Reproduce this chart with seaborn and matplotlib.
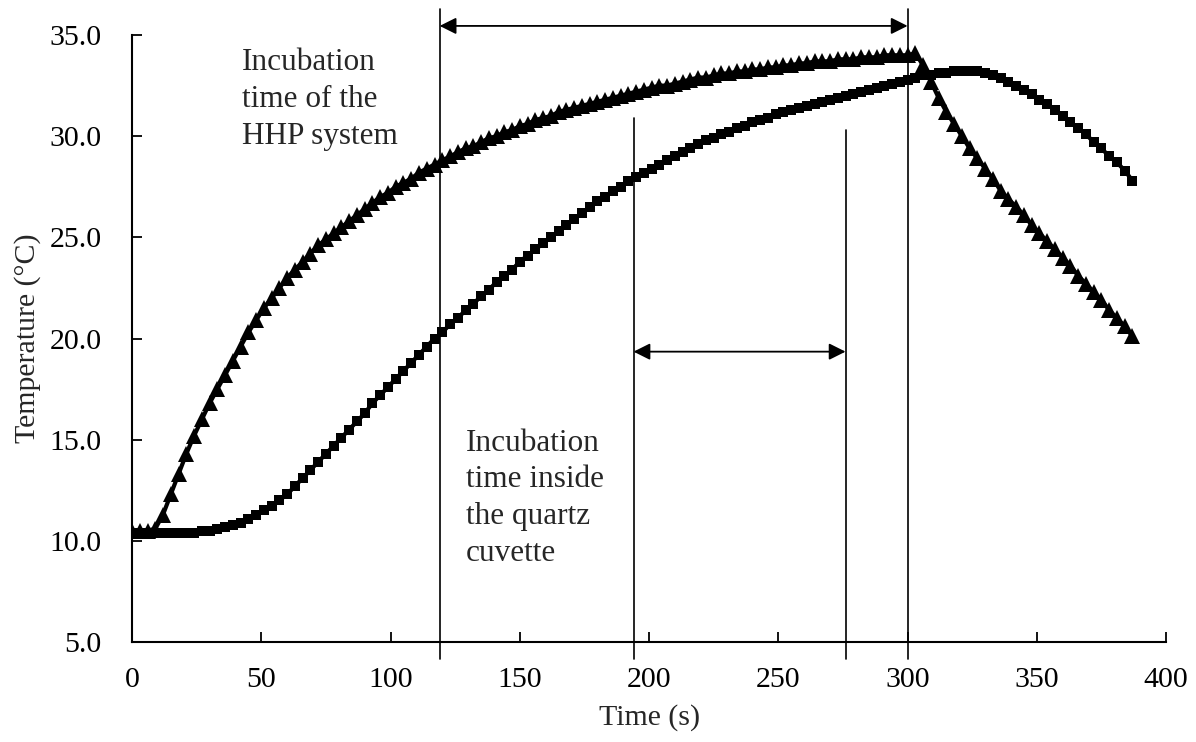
import numpy as np
import pandas as pd
import matplotlib
matplotlib.use("Agg")
import matplotlib.pyplot as plt
import seaborn as sns

# ---------------- data ----------------
time_s = list(range(0, 390, 3))

hhp_system = [
    10.5, 10.5, 10.5, 10.6, 11.3, 12.3, 13.3, 14.3, 15.2, 16.0,
    16.8, 17.5, 18.2, 18.9, 19.6, 20.3, 20.9, 21.5, 22.0, 22.5,
    23.0, 23.4, 23.8, 24.2, 24.6, 24.9, 25.2, 25.5, 25.8, 26.1,
    26.4, 26.7, 27.0, 27.2, 27.5, 27.7, 27.9, 28.2, 28.4, 28.6,
    28.8, 29.0, 29.2, 29.4, 29.5, 29.7, 29.9, 30.0, 30.2, 30.3,
    30.5, 30.6, 30.8, 30.9, 31.0, 31.2, 31.3, 31.4, 31.5, 31.6,
    31.7, 31.8, 31.9, 32.0, 32.1, 32.2, 32.3, 32.4, 32.5, 32.5,
    32.6, 32.7, 32.8, 32.9, 32.9, 33.0, 33.1, 33.1, 33.2, 33.2,
    33.3, 33.3, 33.4, 33.4, 33.5, 33.5, 33.6, 33.6, 33.7, 33.7,
    33.7, 33.8, 33.8, 33.8, 33.9, 33.9, 33.9, 34.0, 34.0, 34.0,
    34.0, 34.1, 33.5, 32.7, 31.9, 31.2, 30.6, 30.0, 29.4, 28.9,
    28.4, 27.9, 27.3, 26.9, 26.5, 26.1, 25.6, 25.2, 24.8, 24.4,
    24.0, 23.6, 23.1, 22.7, 22.3, 21.9, 21.4, 21.0, 20.6, 20.1,
]

quartz_cuvette = [
    10.4, 10.4, 10.4, 10.4, 10.4, 10.4, 10.4, 10.4, 10.4, 10.5,
    10.5, 10.6, 10.7, 10.8, 10.9, 11.1, 11.3, 11.5, 11.7, 12.0,
    12.3, 12.7, 13.1, 13.5, 13.9, 14.3, 14.7, 15.1, 15.5, 15.9,
    16.3, 16.8, 17.2, 17.6, 18.0, 18.4, 18.8, 19.2, 19.6, 20.0,
    20.3, 20.7, 21.0, 21.4, 21.7, 22.1, 22.4, 22.8, 23.1, 23.4,
    23.8, 24.1, 24.4, 24.7, 25.0, 25.3, 25.6, 25.9, 26.2, 26.5,
    26.8, 27.0, 27.3, 27.5, 27.8, 28.0, 28.2, 28.4, 28.6, 28.8,
    29.0, 29.2, 29.4, 29.6, 29.8, 29.9, 30.1, 30.2, 30.4, 30.5,
    30.7, 30.8, 30.9, 31.1, 31.2, 31.3, 31.4, 31.5, 31.6, 31.7,
    31.8, 31.9, 32.0, 32.1, 32.2, 32.3, 32.4, 32.5, 32.6, 32.7,
    32.8, 32.9, 33.0, 33.0, 33.1, 33.1, 33.2, 33.2, 33.2, 33.2,
    33.1, 33.0, 32.9, 32.7, 32.5, 32.3, 32.1, 31.8, 31.6, 31.3,
    31.0, 30.7, 30.4, 30.1, 29.7, 29.4, 29.0, 28.7, 28.3, 27.8,
]

x_ticks = [0, 50, 100, 150, 200, 250, 300, 350, 400]
y_ticks = [5.0, 10.0, 15.0, 20.0, 25.0, 30.0, 35.0]

# marker lines: (x, top y)
marker_x = [119, 300, 194, 276]
marker_top = [36.3, 36.3, 30.9, 30.3]
marker_bottom = 4.15

span_hhp = (119, 300, 35.45)
span_cuvette = (194, 276, 19.35)

text_hhp = "Incubation\ntime of the\nHHP system"
text_cuvette = "Incubation\ntime inside\nthe quartz\ncuvette"

# ---------------- plotting ----------------
sns.set_theme(style="ticks")
plt.rcParams["font.family"] = ["Liberation Serif", "DejaVu Serif"]

df = pd.concat([
    pd.DataFrame({"Time": time_s, "Temp": hhp_system, "Series": "HHP"}),
    pd.DataFrame({"Time": time_s, "Temp": quartz_cuvette, "Series": "Cuvette"}),
])

fig = plt.figure(figsize=(11.96, 7.42), dpi=100)
ax = fig.add_axes([0.1104, 0.1348, 0.975 - 0.1104, 0.9528 - 0.1348])

sns.lineplot(data=df[df.Series == "Cuvette"], x="Time", y="Temp", ax=ax,
             color="black", marker="s", markersize=6.5, linewidth=3,
             markeredgewidth=0, legend=False, estimator=None)
sns.lineplot(data=df[df.Series == "HHP"], x="Time", y="Temp", ax=ax,
             color="black", marker="^", markersize=11.5, linewidth=3,
             markeredgewidth=0, legend=False, estimator=None)

ax.set_xlim(0, 400)
ax.set_ylim(5, 35)
ax.set_xticks(x_ticks)
ax.set_xticklabels([str(v) for v in x_ticks])
ax.set_yticks(y_ticks)
ax.set_yticklabels([f"{v:.1f}" for v in y_ticks])

for s in ["top", "right"]:
    ax.spines[s].set_visible(False)
for s in ["left", "bottom"]:
    ax.spines[s].set_linewidth(1.5)
    ax.spines[s].set_color("black")

ax.tick_params(axis="both", direction="in", length=7, width=1.3,
               labelsize=21.5, colors="black")
ax.tick_params(axis="x", pad=18)
ax.tick_params(axis="y", pad=22)

ax.set_xlabel("Time (s)", fontsize=21.5, labelpad=8)
ax.set_ylabel("Temperature (°C)", fontsize=21.5, labelpad=6)

for xv, top in zip(marker_x, marker_top):
    ax.plot([xv, xv], [marker_bottom, top], color="black", lw=1.2,
            clip_on=False, zorder=1)

for x0, x1, yv in [span_hhp, span_cuvette]:
    ax.annotate("", xy=(x0, yv), xytext=(x1, yv),
                arrowprops=dict(arrowstyle="<|-|>", color="black", lw=1.3,
                                mutation_scale=25, shrinkA=0, shrinkB=0),
                annotation_clip=False)

ax.text(42.6, 34.35, text_hhp, fontsize=22.5, va="top", ha="left",
        linespacing=1.36)
ax.text(129.2, 15.55, text_cuvette, fontsize=22.5, va="top", ha="left",
        linespacing=1.36)

fig.savefig("out.png", dpi=100)
